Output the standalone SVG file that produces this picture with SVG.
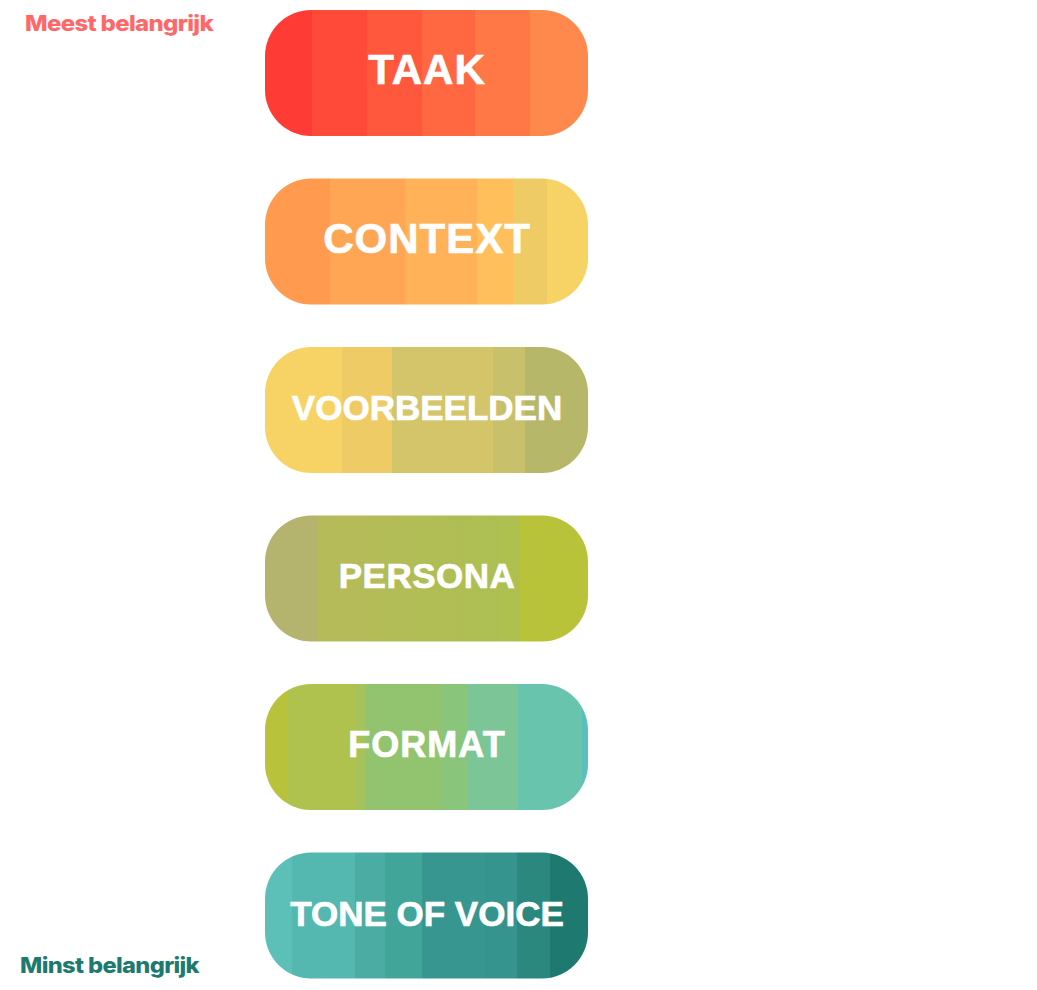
<svg xmlns="http://www.w3.org/2000/svg" width="1037" height="990" viewBox="0 0 1037 990">
<style>
.lbl{font-family:"Liberation Sans",Arial,sans-serif;font-weight:bold;fill:#fff;stroke:#fff;stroke-width:0.7px;text-anchor:middle}
.side{font-family:Inter,"Liberation Sans",Arial,sans-serif;font-weight:800;font-size:22px;letter-spacing:-0.6px}
</style>
<defs>
<linearGradient id="gTaak" x1="0" y1="0" x2="1" y2="0">
<stop offset="0" stop-color="#FF3B35"/><stop offset=".146" stop-color="#FF3B35"/>
<stop offset=".146" stop-color="#FF4A3A"/><stop offset=".316" stop-color="#FF4A3A"/>
<stop offset=".316" stop-color="#FF583C"/><stop offset=".486" stop-color="#FF583C"/>
<stop offset=".486" stop-color="#FF6840"/><stop offset=".650" stop-color="#FF6840"/>
<stop offset=".650" stop-color="#FF7845"/><stop offset=".820" stop-color="#FF7845"/>
<stop offset=".820" stop-color="#FF884C"/><stop offset="1" stop-color="#FF884C"/>
</linearGradient>
<linearGradient id="gContext" x1="0" y1="0" x2="1" y2="0">
<stop offset="0" stop-color="#FF9A4E"/><stop offset=".201" stop-color="#FF9A4E"/>
<stop offset=".201" stop-color="#FFA655"/><stop offset=".433" stop-color="#FFA655"/>
<stop offset=".433" stop-color="#FFB257"/><stop offset=".656" stop-color="#FFB257"/>
<stop offset=".656" stop-color="#FFC05B"/><stop offset=".768" stop-color="#FFC05B"/>
<stop offset=".768" stop-color="#EECB65"/><stop offset=".873" stop-color="#EECB65"/>
<stop offset=".873" stop-color="#F7D366"/><stop offset="1" stop-color="#F7D366"/>
</linearGradient>
<linearGradient id="gVoor" x1="0" y1="0" x2="1" y2="0">
<stop offset="0" stop-color="#F7D366"/><stop offset=".238" stop-color="#F7D366"/>
<stop offset=".238" stop-color="#EFCB66"/><stop offset=".393" stop-color="#EFCB66"/>
<stop offset=".393" stop-color="#D4C56B"/><stop offset=".706" stop-color="#D4C56B"/>
<stop offset=".706" stop-color="#C9C06C"/><stop offset=".805" stop-color="#C9C06C"/>
<stop offset=".805" stop-color="#B7B76A"/><stop offset="1" stop-color="#B7B76A"/>
</linearGradient>
<linearGradient id="gPersona" x1="0" y1="0" x2="1" y2="0">
<stop offset="0" stop-color="#B5B46E"/><stop offset=".161" stop-color="#B5B46E"/>
<stop offset=".161" stop-color="#B6BA5A"/><stop offset=".728" stop-color="#ADBF52"/>
<stop offset=".728" stop-color="#AEC050"/><stop offset=".789" stop-color="#AEC050"/>
<stop offset=".789" stop-color="#B8C33A"/><stop offset="1" stop-color="#B8C33A"/>
</linearGradient>
<linearGradient id="gFormat" x1="0" y1="0" x2="1" y2="0">
<stop offset="0" stop-color="#B8C23A"/><stop offset=".071" stop-color="#B8C23A"/>
<stop offset=".071" stop-color="#AFC24E"/><stop offset=".279" stop-color="#AFC24E"/>
<stop offset=".279" stop-color="#A5C25C"/><stop offset=".310" stop-color="#A5C25C"/>
<stop offset=".310" stop-color="#92C470"/><stop offset=".548" stop-color="#92C470"/>
<stop offset=".548" stop-color="#89C57A"/><stop offset=".628" stop-color="#89C57A"/>
<stop offset=".628" stop-color="#7BC596"/><stop offset=".783" stop-color="#7BC596"/>
<stop offset=".783" stop-color="#68C4AC"/><stop offset=".981" stop-color="#68C4AC"/>
<stop offset=".981" stop-color="#5BC0BC"/><stop offset="1" stop-color="#5BC0BC"/>
</linearGradient>
<linearGradient id="gTone" x1="0" y1="0" x2="1" y2="0">
<stop offset="0" stop-color="#5CC0B8"/><stop offset=".084" stop-color="#5CC0B8"/>
<stop offset=".084" stop-color="#54B8B1"/><stop offset=".279" stop-color="#54B8B1"/>
<stop offset=".279" stop-color="#4AACA2"/><stop offset=".372" stop-color="#4AACA2"/>
<stop offset=".372" stop-color="#42A59A"/><stop offset=".486" stop-color="#42A59A"/>
<stop offset=".486" stop-color="#379790"/><stop offset=".681" stop-color="#379790"/>
<stop offset=".681" stop-color="#36948E"/><stop offset=".780" stop-color="#36948E"/>
<stop offset=".780" stop-color="#2B887F"/><stop offset=".882" stop-color="#2B887F"/>
<stop offset=".882" stop-color="#1E7A70"/><stop offset="1" stop-color="#1E7A70"/>
</linearGradient>
</defs>
<rect width="1037" height="990" fill="#fff"/>
<text id="meest" class="side" x="25" y="30.5" fill="#FF6868" textLength="188" lengthAdjust="spacingAndGlyphs">Meest belangrijk</text>
<text id="minst" class="side" x="20" y="972.5" fill="#1E7A70" textLength="179" lengthAdjust="spacingAndGlyphs">Minst belangrijk</text>
<g id="node-taak">
<rect x="265" y="10" width="323" height="126" rx="46" fill="url(#gTaak)"/>
<text class="lbl" x="427" y="84" font-size="42" letter-spacing="1">TAAK</text>
</g>
<g id="node-context">
<rect x="265" y="178.5" width="323" height="126" rx="46" fill="url(#gContext)"/>
<text class="lbl" x="427" y="253" font-size="42" letter-spacing="1">CONTEXT</text>
</g>
<g id="node-voorbeelden">
<rect x="265" y="347" width="323" height="126" rx="46" fill="url(#gVoor)"/>
<text class="lbl" x="427" y="420" font-size="35">VOORBEELDEN</text>
</g>
<g id="node-persona">
<rect x="265" y="515.5" width="323" height="126" rx="46" fill="url(#gPersona)"/>
<text class="lbl" x="427" y="588" font-size="35" letter-spacing="0.5">PERSONA</text>
</g>
<g id="node-format">
<rect x="265" y="684" width="323" height="126" rx="46" fill="url(#gFormat)"/>
<text class="lbl" x="427" y="757" font-size="36" letter-spacing="1">FORMAT</text>
</g>
<g id="node-tone">
<rect x="265" y="852.5" width="323" height="126" rx="46" fill="url(#gTone)"/>
<text class="lbl" x="427" y="926" font-size="35">TONE OF VOICE</text>
</g>
<g id="connectors"/>
</svg>
